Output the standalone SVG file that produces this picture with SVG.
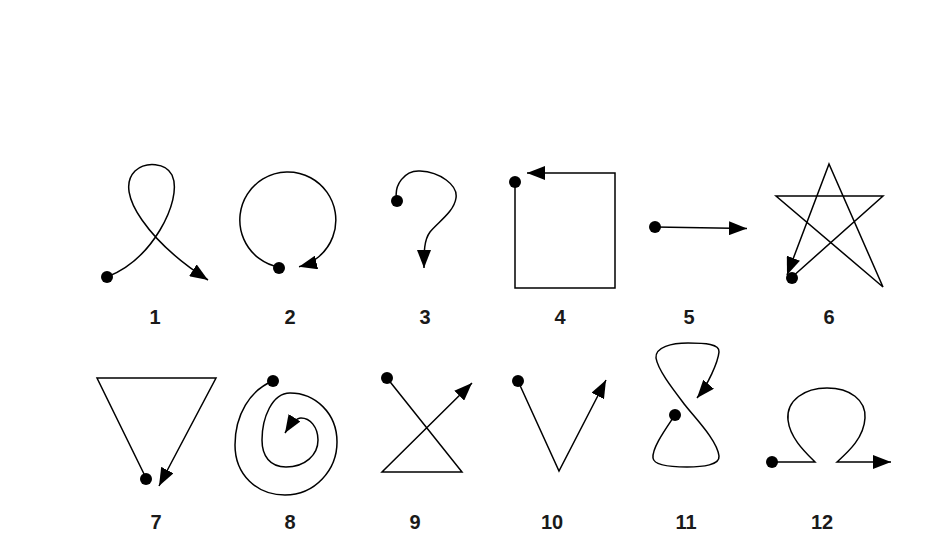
<svg xmlns="http://www.w3.org/2000/svg" width="944" height="554" viewBox="0 0 944 554">
<style>
.p{fill:none;stroke:#000;stroke-width:1.5;stroke-linejoin:miter;marker-end:url(#ah)}
.d{fill:#000}
.l{font-family:"Liberation Sans",Arial,sans-serif;font-weight:bold;font-size:20px;fill:#1a1a1a;text-anchor:middle}
</style>
<defs>
<marker id="ah" viewBox="0 0 18 14" refX="18" refY="7" markerWidth="18" markerHeight="14" markerUnits="userSpaceOnUse" orient="auto">
<path d="M0,0 L18,7 L0,14 z" fill="#000"/>
</marker>
</defs>
<rect width="944" height="554" fill="#fff"/>
<g id="fig1">
<path class="p" d="M107,277 C130,268 148,250 160,230 C172,210 178,188 172,175 C166,163 146,161 135,171 C124,182 128,200 142,220 C158,243 180,262 208,280"/>
<circle class="d" cx="107" cy="277" r="6"/>
<text class="l" x="155" y="324">1</text>
</g>
<g id="fig2">
<path class="p" d="M279,267.2 A48,48 0 1 1 299,266.7"/>
<circle class="d" cx="279" cy="268" r="6"/>
<text class="l" x="290" y="324">2</text>
</g>
<g id="fig3">
<path class="p" d="M397,201 C393,185 405,170 420,171 C440,172 458,185 456,198 C454,212 438,222 430,232 C424,240 424,252 424,268"/>
<circle class="d" cx="397" cy="201" r="6"/>
<text class="l" x="425" y="324">3</text>
</g>
<g id="fig4">
<path class="p" d="M515,182 L515,288 L615,288 L615,173 L527,173"/>
<circle class="d" cx="515" cy="182" r="6"/>
<text class="l" x="560" y="324">4</text>
</g>
<g id="fig5">
<path class="p" d="M655,227 L747,228.5"/>
<circle class="d" cx="655" cy="227" r="6"/>
<text class="l" x="689" y="324">5</text>
</g>
<g id="fig6">
<path class="p" d="M791,278 L883,196 L776,196 L883,287 L829,164 L787,275"/>
<circle class="d" cx="792" cy="278" r="6"/>
<text class="l" x="829" y="324">6</text>
</g>
<g id="fig7">
<path class="p" d="M146,478 L97,378 L216,378 L159,486"/>
<circle class="d" cx="146" cy="479" r="6"/>
<text class="l" x="156" y="529">7</text>
</g>
<g id="fig8">
<path class="p" d="M273,381 C250,390 235,415 235,445 C235,475 257,495 285,495 C315,495 337,470 337,442 C337,413 315,393 290,393 C272,393 262,418 262,440 C262,456 270,467 286,467 C305,467 318,455 318,440 C318,427 310,418 301,418 C296,418 290,425 285,433"/>
<circle class="d" cx="273" cy="381" r="6"/>
<text class="l" x="290" y="529">8</text>
</g>
<g id="fig9">
<path class="p" d="M387,378 L462,472 L382,472 L472,383"/>
<circle class="d" cx="387" cy="378" r="6"/>
<text class="l" x="415" y="529">9</text>
</g>
<g id="fig10">
<path class="p" d="M518,381 L559,471 L606,380"/>
<circle class="d" cx="518" cy="381" r="6"/>
<text class="l" x="552" y="529">10</text>
</g>
<g id="fig11">
<path class="p" d="M675,415 C665,430 652,448 653,458 C654,466 672,467 687,467 C703,467 720,465 719,456 C717,440 695,418 685,405 C672,388 658,370 656,358 C655,347 672,343 688,343 C705,343 720,344 719,352 C718,362 708,385 697,398"/>
<circle class="d" cx="675" cy="415" r="6"/>
<text class="l" x="686" y="529">11</text>
</g>
<g id="fig12">
<path class="p" d="M772,462 L815,462 C805,452 790,438 788,420 C786,400 805,388 827,388 C850,388 866,400 865,418 C864,438 848,452 837,462 L891,462"/>
<circle class="d" cx="772" cy="462" r="6"/>
<text class="l" x="822" y="529">12</text>
</g>
</svg>
